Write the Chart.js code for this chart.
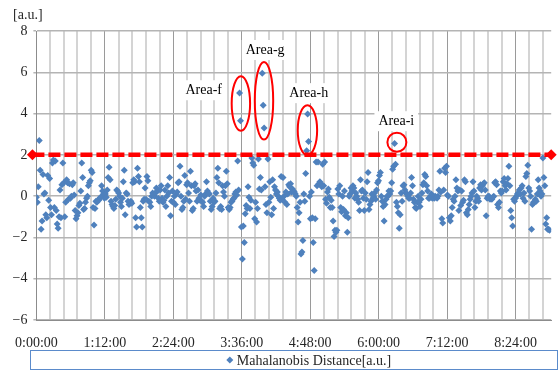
<!DOCTYPE html>
<html>
<head>
<meta charset="utf-8">
<script src="https://cdn.jsdelivr.net/npm/chart.js@4.4.1/dist/chart.umd.min.js"></script>
<style>
  html, body { margin: 0; padding: 0; background: #ffffff; }
  #wrap { width: 558px; height: 371px; }
</style>
</head>
<body>
<div id="wrap"><canvas id="c" width="558" height="371"></canvas></div>
<script>
// ---- data ----
const SERIES_LABEL = 'Mahalanobis Distance[a.u.]';
const Y_UNIT_LABEL = '[a.u.]';
const SAMPLE_MIN = 0.994;          // sampling period in minutes
const X_MIN = 0;                   // minutes
const X_MAX = 541.5;               // minutes
const X_MINOR_STEP = 14.4;         // minutes (0.01 day)
const X_MAJOR_EVERY = 5;           // labelled every 72 minutes
const Y_MIN = -6, Y_MAX = 8, Y_STEP = 2;
const THRESHOLD = 2;
const THRESHOLD_RANGE = [-4.17, 541.5];   // minutes

const distance = [
  -0.05,-0.3,0.45,2.7,1.25,-1.6,-1.2,1.05,0.1,0.15,-0.9,-1.05,1.0,-0.2,0.85,-0.55,-0.9,1.6,1.75,-0.55,1.7,-0.7,-1.35,-1.55,-1.0,
  0.3,-1.05,0.55,1.6,0.65,-1.0,-0.3,0.8,0.65,-0.15,0.6,-0.1,0.0,0.55,0.65,0.05,-0.7,-1.1,-0.95,-0.8,-0.45,-0.35,0.25,1.6,0.9,
  -0.65,-0.6,-0.3,-0.1,0.0,0.5,0.65,0.75,1.25,1.15,-0.55,-1.4,-0.6,-0.25,-0.3,-0.2,-0.2,-0.1,-0.05,0.5,0.25,0.1,-0.1,0.1,-0.05,
  0.3,0.9,1.4,0.8,-0.25,-0.4,-0.5,-0.6,-0.45,-0.15,0.3,0.25,0.15,0.0,-0.3,-0.5,-0.1,0.7,1.25,-0.9,0.15,0.1,-0.25,-0.4,-0.35,
  -0.25,-0.35,0.65,0.8,0.7,-1.05,-1.5,1.35,0.95,0.7,-0.55,-1.05,-1.5,-0.25,-0.15,0.4,-0.15,0.95,0.75,-0.25,-0.3,-0.5,0.0,0.15,0.05,
  0.0,0.15,0.4,0.25,-0.1,-0.25,0.3,0.5,-0.1,-0.3,-0.2,0.3,-0.5,0.0,0.5,0.15,0.9,-0.95,-0.25,0.25,-0.3,0.0,-0.4,0.1,0.2,
  0.65,0.7,1.45,0.0,-0.65,-0.55,-0.25,1.0,-0.15,0.55,0.65,0.15,-0.25,1.2,0.5,-0.7,-0.6,0.5,0.6,0.25,-0.25,0.3,-0.1,-0.2,0.05,
  -0.25,-0.3,-0.5,0.0,0.1,0.7,0.25,0.15,0.1,-0.25,-0.65,-0.5,-0.1,-0.3,-0.25,0.15,0.9,1.35,0.65,-0.6,-0.5,-0.65,0.5,0.2,0.0,
  0.5,1.2,0.6,-0.55,-0.65,-0.55,-0.3,-0.25,-0.15,-0.1,0.1,0.2,0.05,1.7,0.3,5.0,3.65,-1.5,-3.05,-1.45,-2.25,-0.85,-0.45,-0.6,0.45,
  -0.05,-0.6,-0.2,1.85,1.6,1.5,-1.1,-0.3,-1.25,-0.6,1.8,0.35,0.9,0.3,5.95,4.4,3.3,0.45,-0.4,-0.8,1.8,-0.3,0.7,-0.05,-0.9,
  0.8,-0.6,0.45,0.3,0.1,0.2,0.0,-0.1,-0.2,0.95,-0.15,0.9,0.0,-0.3,0.2,-0.4,0.1,0.55,0.45,0.6,0.2,0.35,0.25,0.2,0.1,
  0.0,-0.55,-1.25,-0.8,-0.3,-2.8,-2.7,-2.15,0.1,-0.25,1.1,2.2,3.98,2.65,0.0,-1.1,0.2,-1.05,-2.25,-3.6,-1.1,1.65,0.5,1.65,0.6,
  0.7,0.6,0.45,1.55,0.5,1.65,-0.15,-0.35,0.2,0.35,-0.05,-0.55,-0.2,-0.55,-1.2,-1.95,-1.65,-1.75,-1.65,0.35,0.1,0.5,-0.55,-0.75,0.0,
  -0.65,0.25,-0.95,-0.8,-1.75,-1.05,0.0,0.1,0.4,0.25,0.5,0.4,-0.1,0.15,0.0,-0.15,-0.3,-0.7,0.8,0.25,0.3,-0.1,-0.7,0.15,-0.15,
  0.7,1.15,-0.65,-0.4,-0.25,0.1,-0.1,0.0,0.15,-0.15,0.3,0.65,0.75,1.0,1.15,0.0,-0.25,-0.5,-1.2,-0.4,-0.15,0.0,0.0,0.25,0.1,
  0.25,0.65,1.3,1.45,2.55,1.55,-0.3,-0.5,-0.8,-1.55,-0.9,0.15,-0.25,0.5,0.55,0.3,0.15,0.1,0.0,-0.1,-0.1,0.15,0.9,0.5,-0.15,
  -0.3,-0.55,-0.6,-0.3,0.0,-0.3,-0.5,-0.15,0.15,0.55,0.65,1.05,0.95,0.5,0.25,-0.1,-0.1,0.0,0.1,-0.1,0.0,-0.1,0.0,-0.05,-0.1,
  0.0,0.3,1.2,0.2,-1.1,-1.3,0.3,1.35,1.15,1.45,0.05,0.0,-1.05,-1.2,-0.95,-0.55,-0.15,-0.25,0.0,0.8,0.4,0.25,-0.7,0.3,-0.45,
  0.25,-0.3,-0.2,0.8,0.7,-0.8,-0.9,-0.65,-0.4,-0.15,0.0,0.15,0.7,0.25,-0.55,-0.25,0.0,-0.1,-0.25,0.4,0.55,0.3,0.5,0.6,0.65,
  0.3,-0.95,-0.1,0.0,0.0,-0.15,-0.1,-0.15,-0.05,0.0,0.65,0.7,0.55,-0.4,-0.55,-0.3,0.25,0.15,0.25,0.7,0.85,0.5,0.3,0.6,0.85,
  1.45,0.5,-0.7,-1.05,-1.45,-0.15,-0.25,-0.1,0.0,0.1,0.15,0.3,0.1,0.4,0.5,-0.1,0.15,-0.25,0.95,1.1,1.5,0.4,0.25,0.0,-1.6,
  -0.4,-0.3,-0.3,-0.15,-0.25,0.1,0.8,0.4,0.25,0.0,0.1,1.85,0.9,0.5,-1.35,-1.05,-1.6,-1.6,-1.65
];

// annotation texts and their anchors (time in minutes, value)
const areaNames = ['Area-f', 'Area-g', 'Area-h', 'Area-i'];
const areaLabelAt = [[176, 5.13], [240.6, 7.08], [286.5, 4.99], [378.6, 3.63]];
const areaRingAt  = [[215.1, 4.49], [239.4, 4.62], [285.1, 3.19], [379.2, 2.61]];
const areaRingPx  = [[9.2, 27.3], [9.2, 38.8], [9.7, 25], [9.5, 9.5]];

// ---- styling ----
const FONT = "'Liberation Serif', 'DejaVu Serif', serif";
const TEXT_COLOR = '#262626';
const POINT_COLOR = '#4F81BD';

function fmtTime(min) {
  const totalSec = Math.round(min * 60);
  const h = Math.floor(totalSec / 3600);
  const m = Math.floor((totalSec % 3600) / 60);
  const s = totalSec % 60;
  return h + ':' + String(m).padStart(2, '0') + ':' + String(s).padStart(2, '0');
}
function isMajor(v) {
  const k = Math.round(v / X_MINOR_STEP);
  return Math.abs(k * X_MINOR_STEP - v) < 1e-6 && k % X_MAJOR_EVERY === 0;
}

const overlay = {
  id: 'overlay',
  afterDatasetsDraw(chart) {
    const { ctx, scales: { x, y } } = chart;
    ctx.save();
    ctx.strokeStyle = '#FF0000';
    ctx.lineWidth = 2;
    areaRingAt.forEach((p, i) => {
      ctx.beginPath();
      ctx.ellipse(x.getPixelForValue(p[0]), y.getPixelForValue(p[1]),
                  areaRingPx[i][0], areaRingPx[i][1], 0, 0, Math.PI * 2);
      ctx.stroke();
    });
    ctx.font = '14px ' + FONT;
    ctx.textAlign = 'center';
    ctx.textBaseline = 'middle';
    areaNames.forEach((name, i) => {
      const px = x.getPixelForValue(areaLabelAt[i][0]);
      const py = y.getPixelForValue(areaLabelAt[i][1]);
      const w = ctx.measureText(name).width;
      ctx.fillStyle = '#ffffff';
      ctx.fillRect(px - w / 2 - 4, py - 10, w + 8, 20);
      ctx.fillStyle = '#000000';
      ctx.fillText(name, px, py);
    });
    ctx.restore();
  },
  afterDraw(chart) {
    const { ctx } = chart;
    ctx.save();
    // unit label
    ctx.font = '14px ' + FONT;
    ctx.fillStyle = TEXT_COLOR;
    ctx.textAlign = 'left';
    ctx.textBaseline = 'alphabetic';
    ctx.fillText(Y_UNIT_LABEL, 13, 19);
    // legend box
    ctx.strokeStyle = '#5B8BCB';
    ctx.lineWidth = 1;
    ctx.strokeRect(30.5, 350.5, 527, 19);
    const label = SERIES_LABEL;
    const tw = ctx.measureText(label).width;
    const cx = 314;
    const tx = cx - tw / 2;
    ctx.fillText(label, tx, 365);
    // legend marker
    ctx.fillStyle = POINT_COLOR;
    const mx = tx - 7, my = 360;
    ctx.beginPath();
    ctx.moveTo(mx, my - 3.5); ctx.lineTo(mx + 3.5, my); ctx.lineTo(mx, my + 3.5); ctx.lineTo(mx - 3.5, my);
    ctx.closePath(); ctx.fill();
    ctx.restore();
  }
};

Chart.defaults.font.family = FONT;
Chart.defaults.font.size = 14;
Chart.defaults.color = TEXT_COLOR;

new Chart(document.getElementById('c'), {
  type: 'scatter',
  data: {
    datasets: [
      {
        label: 'threshold',
        type: 'line',
        data: THRESHOLD_RANGE.map(t => ({ x: t, y: THRESHOLD })),
        borderColor: '#FF0000',
        backgroundColor: '#FF0000',
        borderWidth: 4.5,
        borderDash: [12, 4],
        pointStyle: 'rectRot',
        pointRadius: 5.5,
        pointBorderWidth: 0,
        clip: false,
        order: 0
      },
      {
        label: SERIES_LABEL,
        data: distance.map((v, i) => ({ x: i * SAMPLE_MIN, y: v })),
        showLine: false,
        pointStyle: 'rectRot',
        pointRadius: 3.5,
        pointBorderWidth: 0,
        backgroundColor: POINT_COLOR,
        borderColor: POINT_COLOR,
        order: 1
      }
    ]
  },
  options: {
    responsive: false,
    animation: false,
    devicePixelRatio: 1,
    layout: { padding: { top: 31, right: 2, bottom: 21, left: 0 } },
    plugins: { legend: { display: false }, tooltip: { enabled: false } },
    scales: {
      x: {
        type: 'linear',
        min: X_MIN,
        max: X_MAX,
        afterBuildTicks(scale) {
          const t = [];
          for (let k = 0; k * X_MINOR_STEP <= X_MAX + 1e-9; k++) t.push({ value: k * X_MINOR_STEP });
          scale.ticks = t;
        },
        afterFit(scale) { scale.height = 30; },
        ticks: {
          autoSkip: false,
          maxRotation: 0,
          padding: 15,
          color: TEXT_COLOR,
          callback: (v) => isMajor(v) ? fmtTime(v) : ''
        },
        grid: {
          drawTicks: false,
          color: (c) => isMajor(c.tick.value) ? '#9a9a9a' : '#d4d4d4',
          lineWidth: (c) => isMajor(c.tick.value) ? 1 : 2
        },
        border: { color: '#8c8c8c', width: 1 }
      },
      y: {
        min: Y_MIN,
        max: Y_MAX,
        afterFit(scale) { scale.width = 36; },
        ticks: {
          stepSize: Y_STEP,
          padding: 6,
          color: TEXT_COLOR,
          callback: (v) => v < 0 ? '\u2212' + Math.abs(v) : String(v)
        },
        grid: { color: '#b4b4b4', lineWidth: 1.5, tickLength: 3 },
        border: { color: '#8c8c8c', width: 1 }
      }
    }
  },
  plugins: [overlay]
});
</script>
</body>
</html>
